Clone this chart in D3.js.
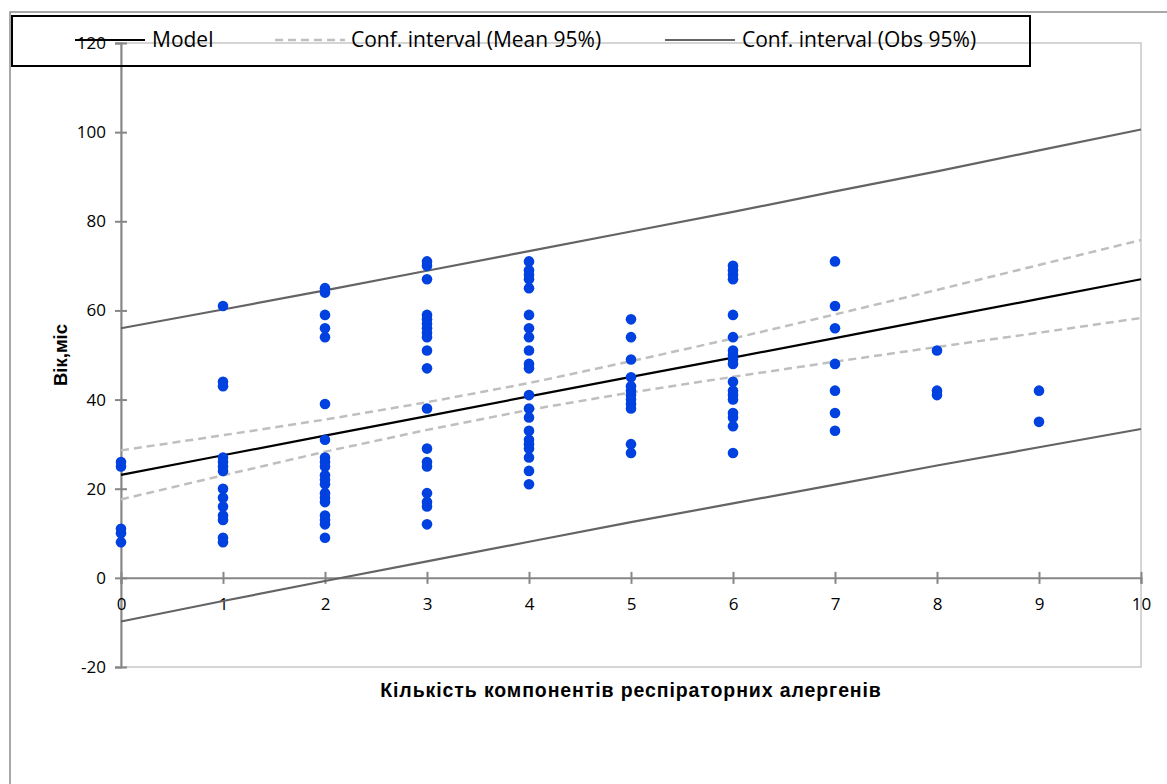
<!DOCTYPE html>
<html>
<head>
<meta charset="utf-8">
<script src="https://cdn.jsdelivr.net/npm/d3@7"></script>
<style>
  body { margin: 0; background: #fff; }
  .axisTitle { font-family: "Liberation Sans", Arial, sans-serif; font-size: 18.5px; font-weight: bold; fill: #000; }
  .legendText { font-family: "Open Sans", sans-serif; font-size: 21px; fill: #000; }
</style>
</head>
<body>
<div id="chart"></div>
<script>
// scatter: age (months) by number of respiratory allergen components
var ages0 = [26, 25, 11, 10, 8];
var ages1 = [61, 44, 43, 27, 26, 25, 24, 20, 18, 16, 14, 13, 9, 8];
var ages2 = [65, 64, 59, 56, 54, 39, 31, 27, 26, 25, 23, 22, 21, 19, 18, 17, 14, 13, 12, 9];
var ages3 = [71, 70, 67, 59, 58, 57, 56, 55, 54, 51, 47, 38, 29, 26, 25, 19, 17, 16, 12];
var ages4 = [71, 69, 68, 67, 65, 59, 56, 54, 51, 48, 47, 41, 38, 36, 33, 31, 30, 29, 27, 24, 21];
var ages5 = [58, 54, 49, 45, 43, 42, 41, 40, 39, 38, 30, 28];
var ages6 = [70, 69, 68, 67, 59, 54, 51, 50, 49, 48, 44, 42, 41, 40, 37, 36, 34, 28];
var ages7 = [71, 61, 56, 48, 42, 37, 33];
var ages8 = [51, 42, 41];
var ages9 = [42, 35];

// fitted lines at x = 0..10
var lineX     = [0, 1, 2, 3, 4, 5, 6, 7, 8, 9, 10];
var model     = [23.1, 27.5, 31.9, 36.3, 40.7, 45.1, 49.4, 53.8, 58.2, 62.6, 67.0];
var meanUpper = [28.6, 32.0, 35.5, 39.4, 43.7, 48.6, 53.7, 59.1, 64.6, 70.2, 75.8];
var meanLower = [17.6, 23.0, 28.3, 33.2, 37.7, 41.6, 45.1, 48.5, 51.8, 55.0, 58.3];
var obsUpper  = [56.0, 60.2, 64.5, 68.9, 73.3, 77.7, 82.1, 86.7, 91.2, 95.9, 100.6];
var obsLower  = [-9.8, -5.2, -0.7, 3.7, 8.1, 12.5, 16.7, 20.9, 25.2, 29.3, 33.4];

var xTicks = [0, 1, 2, 3, 4, 5, 6, 7, 8, 9, 10];
var yTicks = [-20, 0, 20, 40, 60, 80, 100, 120];

var legendNames = ["Model", "Conf. interval (Mean 95%)", "Conf. interval (Obs 95%)"];

var width = 1167, height = 784;
var svg = d3.select("#chart").append("svg").attr("width", width).attr("height", height);

// outer chart border (cut off on right/bottom)
svg.append("rect").attr("x", 10).attr("y", 12).attr("width", 1200).attr("height", 820)
    .style("fill", "none").style("stroke", "#8c8c8c").style("stroke-width", 1.5);

var x = d3.scaleLinear().domain([0, 10]).range([121, 1141]);
var y = d3.scaleLinear().domain([-20, 120]).range([667, 43]);

// plot area frame
svg.append("rect").attr("x", x(0)).attr("y", y(120)).attr("width", x(10) - x(0)).attr("height", y(-20) - y(120))
    .style("fill", "none").style("stroke", "#c8c8c8").style("stroke-width", 1.5);

function styleTicks(g) {
    g.attr("font-size", null).attr("font-family", null);
    g.selectAll(".tick text").style("font-family", "'Open Sans', sans-serif").style("font-size", "17px").style("fill", "#000");
}

// y axis
var yAxis = d3.axisLeft(y).tickValues(yTicks).tickSize(6).tickPadding(9).tickFormat(d => String(d));
var gy = svg.append("g").attr("transform", `translate(${x(0)},0)`).call(yAxis);
gy.select(".domain").style("stroke", "#868686").style("stroke-width", 2);
gy.selectAll(".tick line").attr("x1", -6).attr("x2", 6).style("stroke", "#868686").style("stroke-width", 2);
styleTicks(gy);

// x axis at y = 0
var xAxis = d3.axisBottom(x).tickValues(xTicks).tickSize(6).tickPadding(14).tickFormat(d => String(d));
var gx = svg.append("g").attr("transform", `translate(0,${y(0)})`).call(xAxis);
gx.select(".domain").style("stroke", "#868686").style("stroke-width", 2);
gx.selectAll(".tick line").attr("y1", -6).attr("y2", 6).style("stroke", "#868686").style("stroke-width", 2);
styleTicks(gx);

// lines
var line = d3.line().x((d, i) => x(lineX[i])).y(d => y(d));
function drawLine(vals, colour, w, dash) {
    svg.append("path").datum(vals).attr("d", line)
        .style("fill", "none").style("stroke", colour).style("stroke-width", w)
        .style("stroke-dasharray", dash || null);
}
drawLine(obsUpper, "#646464", 2.2);
drawLine(obsLower, "#646464", 2.2);
drawLine(meanUpper, "#bfbfbf", 2.5, "8,5");
drawLine(meanLower, "#bfbfbf", 2.5, "8,5");
drawLine(model, "#000", 2.2);

// points
var groups = [ages0, ages1, ages2, ages3, ages4, ages5, ages6, ages7, ages8, ages9];
var points = [];
groups.forEach((g, i) => g.forEach(v => points.push({ n: i, age: v })));
svg.selectAll("circle.pt").data(points).enter().append("circle").attr("class", "pt")
    .attr("cx", d => x(d.n)).attr("cy", d => y(d.age)).attr("r", 5.3)
    .style("fill", "#0041df");

// axis titles
svg.append("text").attr("class", "axisTitle").attr("transform", "translate(67,355) rotate(-90)")
    .style("text-anchor", "middle").text("Вік,міс");
svg.append("text").attr("class", "axisTitle").attr("x", 631).attr("y", 697)
    .style("text-anchor", "middle").style("font-size", "19.5px").style("letter-spacing", "0.9px")
    .text("Кількість компонентів респіраторних алергенів");

// legend
svg.append("rect").attr("x", 12).attr("y", 16).attr("width", 1018).attr("height", 50)
    .style("fill", "none").style("stroke", "#000").style("stroke-width", 2);
var legendItems = [
    { x1: 75, x2: 145, tx: 152, colour: "#000", w: 2.2, dash: null },
    { x1: 275, x2: 345, tx: 351, colour: "#bfbfbf", w: 2.5, dash: "8,5" },
    { x1: 665, x2: 735, tx: 742, colour: "#646464", w: 2.2, dash: null }
];
legendItems.forEach((d, i) => {
    svg.append("line").attr("x1", d.x1).attr("x2", d.x2).attr("y1", 40).attr("y2", 40)
        .style("stroke", d.colour).style("stroke-width", d.w).style("stroke-dasharray", d.dash);
    svg.append("text").attr("class", "legendText").attr("x", d.tx).attr("y", 47).text(legendNames[i]);
});
</script>
</body>
</html>
